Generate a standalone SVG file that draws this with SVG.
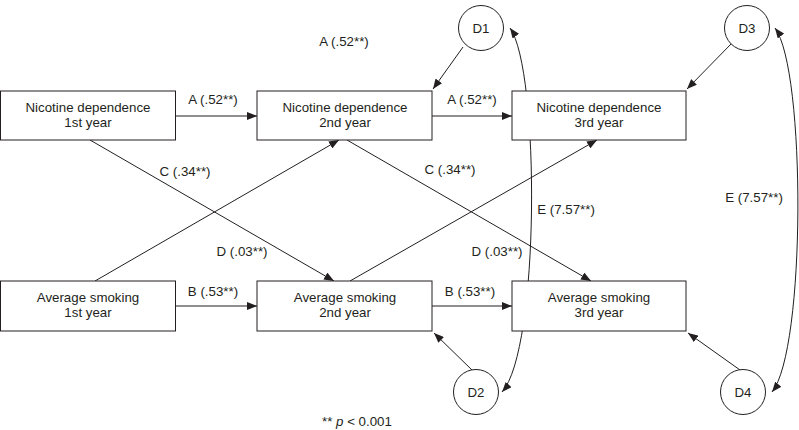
<svg xmlns="http://www.w3.org/2000/svg" width="799" height="430" viewBox="0 0 799 430">
<style>
.box{fill:#fff;stroke:#231f20;stroke-width:1}
.circ{fill:#fff;stroke:#231f20;stroke-width:1}
.ln{fill:none;stroke:#231f20;stroke-width:1}
text{font-family:"Liberation Sans",Arial,sans-serif;font-size:13.3px;fill:#231f20}
.c{text-anchor:middle}
</style>
<defs>
<marker id="ah" markerUnits="userSpaceOnUse" markerWidth="10" markerHeight="8" refX="10" refY="4" orient="auto-start-reverse">
<path d="M0,0 L10,4 L0,8 z" fill="#231f20"/>
</marker>
</defs>
<rect width="799" height="430" fill="#fff"/>
<g id="connectors">
<line class="ln" x1="175" y1="116" x2="257" y2="116" marker-end="url(#ah)"/>
<line class="ln" x1="432" y1="116" x2="512" y2="116" marker-end="url(#ah)"/>
<line class="ln" x1="175" y1="306" x2="257" y2="306" marker-end="url(#ah)"/>
<line class="ln" x1="432" y1="306" x2="512" y2="306" marker-end="url(#ah)"/>
<line class="ln" x1="90" y1="140" x2="334" y2="281" marker-end="url(#ah)"/>
<line class="ln" x1="95" y1="281" x2="339" y2="140" marker-end="url(#ah)"/>
<line class="ln" x1="347" y1="140" x2="591" y2="281" marker-end="url(#ah)"/>
<line class="ln" x1="350" y1="281" x2="597" y2="140" marker-end="url(#ah)"/>
<line class="ln" x1="463" y1="47" x2="433" y2="89" marker-end="url(#ah)"/>
<line class="ln" x1="732" y1="43" x2="687" y2="89" marker-end="url(#ah)"/>
<line class="ln" x1="472" y1="370" x2="434" y2="333" marker-end="url(#ah)"/>
<line class="ln" x1="740" y1="370" x2="688" y2="333" marker-end="url(#ah)"/>
<path class="ln" d="M510,28 C540,70 540,350 502,392" marker-start="url(#ah)" marker-end="url(#ah)"/>
<path class="ln" d="M775,28 C806,70 806,350 772,392" marker-start="url(#ah)" marker-end="url(#ah)"/>
<text x="213" y="104" class="c">A (.52**)</text>
<text x="472" y="104" class="c">A (.52**)</text>
<text x="344" y="46" class="c">A (.52**)</text>
<text x="185" y="176" class="c">C (.34**)</text>
<text x="450" y="174" class="c">C (.34**)</text>
<text x="242" y="256" class="c">D (.03**)</text>
<text x="497" y="256" class="c">D (.03**)</text>
<text x="213" y="296" class="c">B (.53**)</text>
<text x="470" y="296" class="c">B (.53**)</text>
<text x="566" y="214" class="c">E (7.57**)</text>
<text x="754" y="202" class="c">E (7.57**)</text>
</g>
<g id="n1"><rect class="box" x="0.5" y="91" width="175" height="49"/><text x="88" y="112" class="c">Nicotine dependence</text><text x="88" y="127" class="c">1st year</text></g>
<g id="n2"><rect class="box" x="257" y="91" width="175" height="49"/><text x="345" y="112" class="c">Nicotine dependence</text><text x="345" y="127" class="c">2nd year</text></g>
<g id="n3"><rect class="box" x="512" y="91" width="174" height="49"/><text x="599" y="112" class="c">Nicotine dependence</text><text x="599" y="127" class="c">3rd year</text></g>
<g id="s1"><rect class="box" x="0.5" y="281" width="175" height="50"/><text x="88" y="302" class="c">Average smoking</text><text x="88" y="317" class="c">1st year</text></g>
<g id="s2"><rect class="box" x="257" y="281" width="175" height="50"/><text x="345" y="302" class="c">Average smoking</text><text x="345" y="317" class="c">2nd year</text></g>
<g id="s3"><rect class="box" x="512" y="281" width="174" height="50"/><text x="599" y="302" class="c">Average smoking</text><text x="599" y="317" class="c">3rd year</text></g>
<g id="d1"><circle class="circ" cx="481" cy="28" r="22.5"/><text x="481" y="33" class="c">D1</text></g>
<g id="d3"><circle class="circ" cx="747" cy="28" r="22.5"/><text x="747" y="33" class="c">D3</text></g>
<g id="d2"><circle class="circ" cx="476" cy="392" r="22.5"/><text x="476" y="397" class="c">D2</text></g>
<g id="d4"><circle class="circ" cx="743" cy="392" r="22.5"/><text x="743" y="397" class="c">D4</text></g>
<text x="322" y="426">** <tspan font-style="italic">p</tspan> &lt; 0.001</text>
</svg>
